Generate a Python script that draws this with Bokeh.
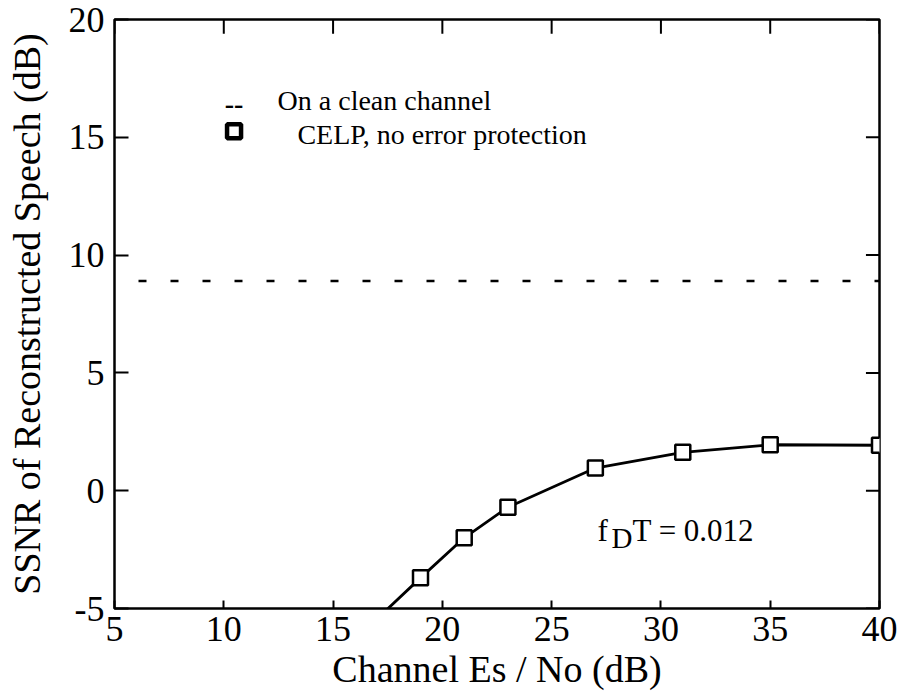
from bokeh.plotting import figure
from bokeh.models import Range1d, FixedTicker, Label
from bokeh.embed import file_html
from bokeh.resources import INLINE

# ---- data ----
es_no = [19, 21, 23, 27, 31, 35, 40]
ssnr = [-3.7, -2.0, -0.7, 0.96, 1.63, 1.95, 1.93]
# fitted curve continues below the axis on the left
curve_x = [17, 19, 21, 23, 27, 31, 35, 40]
curve_y = [-5.45, -3.7, -2.0, -0.7, 0.96, 1.63, 1.95, 1.93]
clean_x = [5, 40]
clean_y = [8.9, 8.9]
x_ticks = [5, 10, 15, 20, 25, 30, 35, 40]
y_ticks = [-5, 0, 5, 10, 15, 20]
legend_labels = ["On a clean channel", "CELP, no error protection"]
annotation = ["f", "D", "T = 0.012"]

FONT = "Liberation Serif"
X0, X1, Y0, Y1 = 5, 40, -5, 20

p = figure(width=899, height=698, output_backend="svg", toolbar_location=None,
           x_range=Range1d(X0, X1), y_range=Range1d(Y0, Y1),
           min_border_left=114, min_border_right=20, min_border_top=19, min_border_bottom=90,
           x_axis_label="Channel Es / No (dB)",
           y_axis_label="SSNR of Reconstructed Speech (dB)")
p.background_fill_color = "white"
p.border_fill_color = "white"
p.outline_line_color = "black"
p.outline_line_width = 2.5
p.xgrid.visible = False
p.ygrid.visible = False

def style_axis(ax, ticks, tick_in):
    ax.ticker = FixedTicker(ticks=ticks)
    ax.major_label_overrides = {t: str(t) for t in ticks}
    ax.axis_line_color = None
    ax.major_tick_in = tick_in
    ax.major_tick_out = 0
    ax.major_tick_line_width = 2
    ax.major_tick_line_color = "black"
    ax.minor_tick_line_color = None
    ax.major_label_text_font = FONT
    ax.major_label_text_font_size = "36px"
    ax.major_label_text_color = "black"
    ax.axis_label_text_font = FONT
    ax.axis_label_text_font_size = "38px"
    ax.axis_label_text_font_style = "normal"
    ax.axis_label_text_color = "black"

style_axis(p.xaxis[0], x_ticks, 8)
style_axis(p.yaxis[0], y_ticks, 14)
p.xaxis[0].major_label_standoff = 8
p.xaxis[0].axis_label_standoff = 4
p.yaxis[0].major_label_standoff = 10
p.yaxis[0].axis_label_standoff = 18

# mirrored inward ticks on top and right edges (from the same tick lists)
tick_dx = 0.62   # ~14 px in x data units
tick_dy = 0.60   # ~14 px in y data units
p.segment(x0=x_ticks, y0=[Y1] * len(x_ticks), x1=x_ticks, y1=[Y1 - tick_dy] * len(x_ticks),
          line_color="black", line_width=2)
p.segment(x0=[X1] * len(y_ticks), y0=y_ticks, x1=[X1 - tick_dx] * len(y_ticks), y1=y_ticks,
          line_color="black", line_width=2)

# clean channel reference (dashed)
p.line(clean_x, clean_y, line_color="black", line_width=2.5, line_dash="8 24", line_dash_offset=8)

# CELP curve + markers
p.line(curve_x, curve_y, line_color="black", line_width=2.8)
p.scatter(es_no, ssnr, marker="square", size=15, fill_color="white",
          line_color="black", line_width=2.5)

# legend (manual, as in the original)
p.add_layout(Label(x=10.47, y=16.4, text="--", text_font=FONT, text_font_size="28px",
                   text_align="center", text_baseline="middle", text_font_style="bold",
                   text_color="black"))
p.add_layout(Label(x=12.46, y=16.57, text=legend_labels[0], text_font=FONT,
                   text_font_size="28px", text_baseline="middle", text_color="black"))
p.scatter([10.47], [15.26], marker="square", size=14, fill_color="white",
          line_color="black", line_width=4.5)
p.add_layout(Label(x=13.37, y=15.14, text=legend_labels[1], text_font=FONT,
                   text_font_size="28px", text_baseline="middle", text_color="black"))

# annotation f_D T = 0.012
p.add_layout(Label(x=27.10, y=-1.70, text=annotation[0], text_font=FONT,
                   text_font_size="31px", text_baseline="alphabetic", text_color="black"))
p.add_layout(Label(x=27.74, y=-2.0, text=annotation[1], text_font=FONT,
                   text_font_size="29px", text_baseline="alphabetic", text_color="black"))
p.add_layout(Label(x=28.70, y=-1.70, text=annotation[2], text_font=FONT,
                   text_font_size="31px", text_baseline="alphabetic", text_color="black"))

open("out.html", "w").write(file_html(p, INLINE))
